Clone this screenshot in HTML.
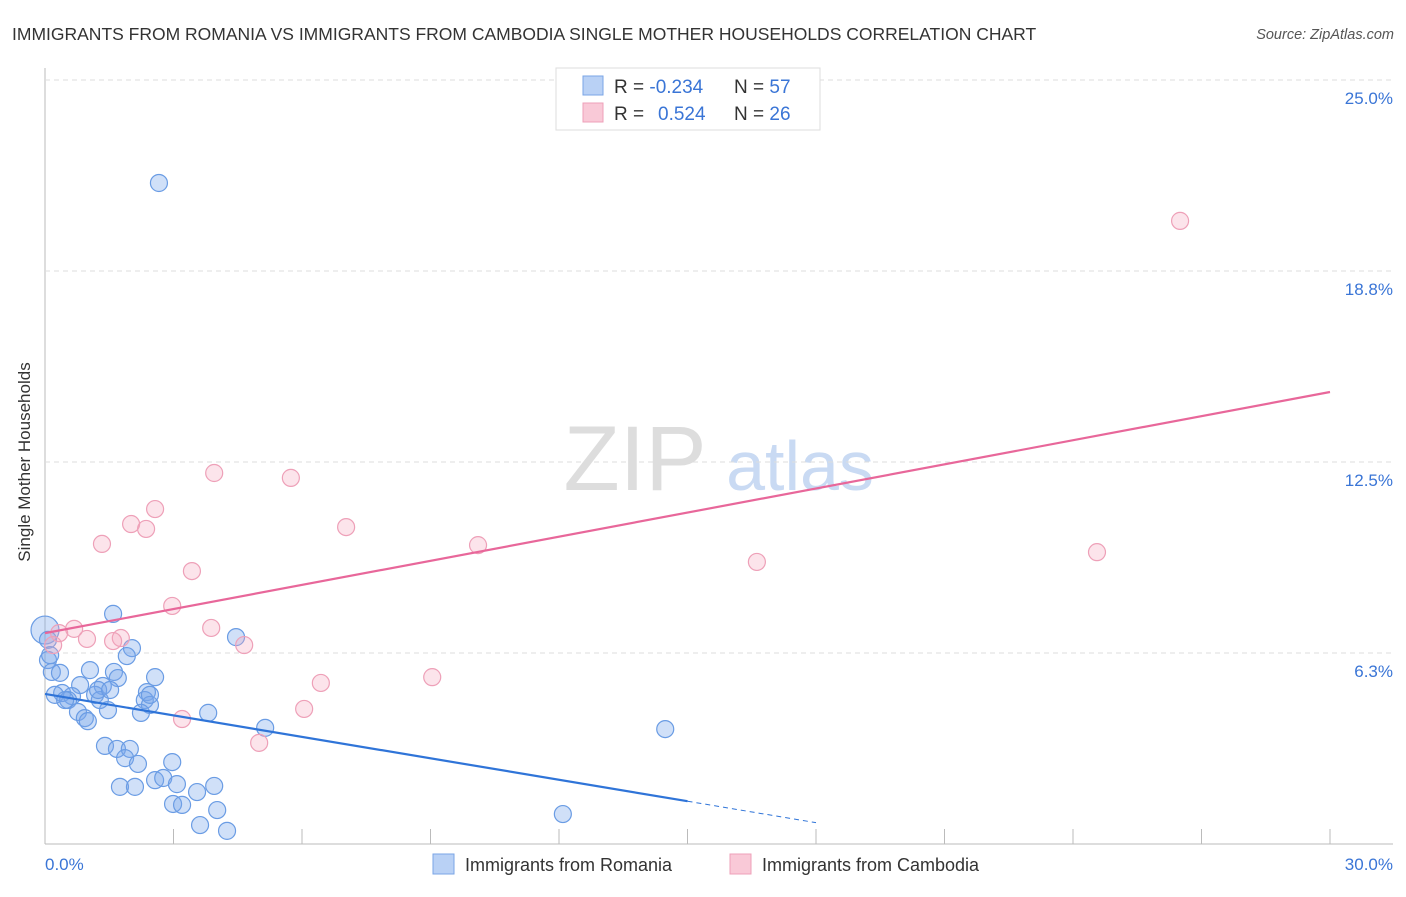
<!DOCTYPE html>
<html><head><meta charset="utf-8"><style>
body{margin:0;background:#fff;font-family:"Liberation Sans",sans-serif;}
svg text{font-family:"Liberation Sans",sans-serif;}
</style></head><body>
<svg id="chart" width="1406" height="892">
<text x="12" y="40" font-size="17.5" fill="#333">IMMIGRANTS FROM ROMANIA VS IMMIGRANTS FROM CAMBODIA SINGLE MOTHER HOUSEHOLDS CORRELATION CHART</text>
<text x="1394" y="39" font-size="14.5" fill="#555" text-anchor="end" font-style="italic">Source: ZipAtlas.com</text>
<text x="24" y="456" font-size="17" fill="#333" text-anchor="middle" transform="rotate(-90 30 456)">Single Mother Households</text>
<g><text x="635" y="490" font-size="92" fill="#ddd" text-anchor="middle" font-family="Liberation Serif">ZIP</text><text x="800" y="490" font-size="70" fill="#c9daf3" text-anchor="middle">atlas</text></g>
<g id="grid"></g><g id="pts"></g><g id="lines"></g>
<g>
<rect x="556" y="68" width="264" height="62" fill="#fff" stroke="#ddd"/>
<rect x="583" y="76" width="20" height="19" fill="#b9d1f5" stroke="#7aa5e6"/>
<rect x="583" y="103" width="20" height="19" fill="#f9c9d7" stroke="#eea0b8"/>
<text x="614" y="93" font-size="19" fill="#333">R = <tspan fill="#3a75d6">-0.234</tspan></text>
<text x="734" y="93" font-size="19" fill="#333">N = <tspan fill="#3a75d6">57</tspan></text>
<text x="614" y="120" font-size="19" fill="#333">R = <tspan x="658" fill="#3a75d6">0.524</tspan></text>
<text x="734" y="120" font-size="19" fill="#333">N = <tspan fill="#3a75d6">26</tspan></text>
</g>
<g>
<rect x="433" y="854" width="21" height="20" fill="#b9d1f5" stroke="#7aa5e6"/>
<text x="465" y="871" font-size="18" fill="#333">Immigrants from Romania</text>
<rect x="730" y="854" width="21" height="20" fill="#f9c9d7" stroke="#eea0b8"/>
<text x="762" y="871" font-size="18" fill="#333">Immigrants from Cambodia</text>
</g>
</svg>
<script>
const yTicks=[6.25,12.5,18.75,25];
const yTickLabels=["6.3%","12.5%","18.8%","25.0%"];
const xTickCount=10;
const blueX=[2.66,1.59,4.46,2.03,1.91,0.07,0.16,0.35,1.05,1.61,1.70,2.57,0.82,1.35,2.38,0.40,0.23,0.63,1.17,1.28,0.54,2.33,2.45,1.47,0.77,0.93,1.00,2.24,3.81,5.14,14.48,1.40,1.68,1.98,1.87,2.17,2.97,2.57,2.76,3.08,1.75,2.10,3.95,3.55,2.99,3.20,4.02,3.62,4.25,12.09,0.0,0.07,0.12,0.47,1.24,1.52,2.45];
const blueY=[21.63,7.53,6.77,6.41,6.15,6.02,5.63,5.60,5.69,5.63,5.43,5.46,5.20,5.17,4.97,4.94,4.88,4.84,4.88,4.71,4.71,4.71,4.55,4.38,4.32,4.12,4.02,4.29,4.29,3.80,3.76,3.21,3.11,3.11,2.81,2.62,2.68,2.09,2.16,1.96,1.87,1.87,1.90,1.70,1.31,1.28,1.11,0.62,0.43,0.98,7.0,6.68,6.18,4.71,5.04,5.04,4.88];
const pinkX=[26.50,3.95,5.74,2.57,2.01,2.36,7.03,1.33,10.11,24.56,16.62,3.43,2.97,0.68,3.88,0.33,1.77,1.59,0.98,4.65,0.19,9.04,6.44,6.05,3.20,5.00];
const pinkY=[20.39,12.14,11.98,10.96,10.47,10.31,10.37,9.82,9.78,9.55,9.23,8.93,7.79,7.04,7.07,6.90,6.74,6.64,6.71,6.51,6.51,5.46,5.27,4.42,4.09,3.31];
const blueTrend=[4.91,-0.234];
const pinkTrend=[6.9,0.263];
const ns="http://www.w3.org/2000/svg";
const X=v=>45+v*(1285/30), Y=v=>844-v*30.56;
function mk(t,a,p){const e=document.createElementNS(ns,t);for(const k in a)e.setAttribute(k,a[k]);p.appendChild(e);return e;}
const grid=document.getElementById('grid');
const ax=mk('line',{x1:45,y1:68,x2:45,y2:844,stroke:'#bbb'},grid);


const bx=mk('line',{x1:45,y1:844,x2:1393,y2:844,stroke:'#bbb'},grid);


yTicks.forEach((t,i)=>{
 const g=mk('line',{x1:45,y1:Y(t),x2:1393,y2:Y(t),stroke:'#ddd','stroke-dasharray':'5,4'},grid);
 
 
 const l=mk('text',{x:1393,y:Y(t)+24,'font-size':17,fill:'#3a75d6','text-anchor':'end'},grid);
 l.textContent=yTickLabels[i];
 
 
});
for(let i=1;i<=xTickCount;i++){
 const t=mk('line',{x1:X(i*3),y1:829,x2:X(i*3),y2:844,stroke:'#bbb'},grid);
 
 
}
const x0=mk('text',{x:45,y:870,'font-size':17,fill:'#3a75d6'},grid);x0.textContent='0.0%';


const x1=mk('text',{x:1393,y:870,'font-size':17,fill:'#3a75d6','text-anchor':'end'},grid);x1.textContent='30.0%';


const pts=document.getElementById('pts');
blueX.forEach((x,i)=>{
 const c=mk('circle',{cx:X(x),cy:Y(blueY[i]),r:(x===0?14:8.5),fill:'rgba(120,165,235,0.35)',stroke:'#6a9ce4','stroke-width':1.2},pts);
 
 
});
pinkX.forEach((x,i)=>{
 const c=mk('circle',{cx:X(x),cy:Y(pinkY[i]),r:8.5,fill:'rgba(245,165,190,0.3)',stroke:'#eea0b8','stroke-width':1.2},pts);
 
 
});
const lines=document.getElementById('lines');
const b1=mk('line',{x1:X(0),y1:Y(blueTrend[0]),x2:X(15),y2:Y(blueTrend[0]+blueTrend[1]*15),stroke:'#2f74d8','stroke-width':2.2},lines);


const b2=mk('line',{x1:X(15),y1:Y(blueTrend[0]+blueTrend[1]*15),x2:X(18),y2:Y(blueTrend[0]+blueTrend[1]*18),stroke:'#2f74d8','stroke-width':1,'stroke-dasharray':'5,4'},lines);


const p1=mk('line',{x1:X(0),y1:Y(pinkTrend[0]),x2:X(30),y2:Y(pinkTrend[0]+pinkTrend[1]*30),stroke:'#e8679a','stroke-width':2.2},lines);


</script>
</body></html>
